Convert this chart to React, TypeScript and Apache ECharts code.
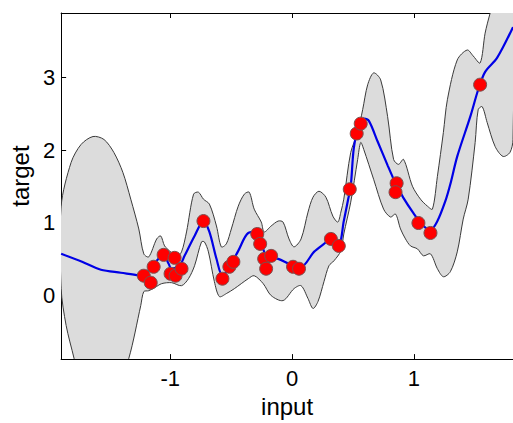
import React, { useEffect, useRef } from 'react';
import * as echarts from 'echarts';

const X_MIN = -1.897;
const X_MAX = 1.815;
const Y_MIN = -0.876;
const Y_MAX = 3.885;

// Posterior mean (blue line)
const meanCurve: [number, number][] = [
  [-1.897, 0.572], [-1.725, 0.462], [-1.57, 0.353], [-1.406, 0.312], [-1.259, 0.275],
  [-1.218, 0.271], [-1.153, 0.394], [-1.055, 0.558], [-1.014, 0.435], [-0.989, 0.367],
  [-0.924, 0.408], [-0.883, 0.545], [-0.801, 0.818], [-0.728, 1.023], [-0.679, 0.873],
  [-0.621, 0.504], [-0.572, 0.271], [-0.523, 0.367], [-0.442, 0.613], [-0.36, 0.859],
  [-0.294, 0.873], [-0.253, 0.736], [-0.229, 0.599], [-0.196, 0.531], [-0.114, 0.503],
  [-0.008, 0.421], [0.074, 0.394], [0.18, 0.599], [0.262, 0.709], [0.319, 0.777],
  [0.384, 0.709], [0.425, 1.023], [0.458, 1.3], [0.482, 1.5], [0.507, 2.022],
  [0.548, 2.336], [0.589, 2.432], [0.63, 2.404], [0.703, 2.117], [0.785, 1.789],
  [0.85, 1.543], [0.916, 1.338], [0.997, 1.132], [1.071, 0.968], [1.137, 0.9],
  [1.194, 1.023], [1.259, 1.296], [1.3, 1.529], [1.357, 1.912], [1.464, 2.459],
  [1.529, 2.829], [1.586, 3.075], [1.684, 3.267], [1.815, 3.691],
];

// Upper edge of the confidence band
const upperBound: [number, number][] = [
  [-1.897, 1.228], [-1.815, 1.83], [-1.733, 2.077], [-1.635, 2.186], [-1.545, 2.145],
  [-1.464, 1.967], [-1.39, 1.693], [-1.325, 1.324], [-1.259, 0.914], [-1.218, 0.572],
  [-1.177, 0.531], [-1.112, 0.777], [-1.079, 0.818], [-1.047, 0.681], [-1.006, 0.613],
  [-0.948, 0.531], [-0.908, 0.599], [-0.867, 0.873], [-0.809, 1.393], [-0.769, 1.42],
  [-0.728, 1.324], [-0.679, 1.256], [-0.621, 0.955], [-0.581, 0.668], [-0.54, 0.709],
  [-0.499, 0.914], [-0.442, 1.228], [-0.392, 1.393], [-0.352, 1.42], [-0.311, 1.187],
  [-0.253, 1.009], [-0.229, 0.873], [-0.172, 0.955], [-0.114, 1.023], [-0.074, 1.009],
  [-0.025, 0.777], [0.016, 0.668], [0.074, 0.777], [0.131, 1.146], [0.172, 1.351],
  [0.221, 1.433], [0.278, 1.351], [0.335, 1.091], [0.376, 1.009], [0.401, 1.146],
  [0.425, 1.324], [0.482, 1.967], [0.539, 2.241], [0.58, 2.555], [0.621, 2.897],
  [0.67, 3.061], [0.728, 2.965], [0.785, 2.459], [0.834, 1.871], [0.875, 1.803],
  [0.916, 1.871], [0.989, 1.502], [1.055, 1.324], [1.112, 1.228], [1.153, 1.187],
  [1.194, 1.638], [1.243, 2.241], [1.276, 2.692], [1.357, 3.239], [1.439, 3.376],
  [1.488, 3.294], [1.545, 3.198], [1.586, 3.608], [1.627, 3.882], [1.684, 4.2],
  [1.815, 4.8],
];

// Lower edge of the confidence band
const lowerBound: [number, number][] = [
  [-1.897, 0.093], [-1.856, -0.413], [-1.791, -0.865], [-1.725, -1.342], [-1.635, -1.52],
  [-1.537, -1.48], [-1.439, -1.27], [-1.341, -0.865], [-1.243, -0.14], [-1.218, 0.052],
  [-1.177, 0.065], [-1.128, 0.107], [-1.071, 0.162], [-0.989, 0.175], [-0.908, 0.134],
  [-0.851, 0.23], [-0.801, 0.408], [-0.744, 0.736], [-0.72, 0.736], [-0.687, 0.599],
  [-0.638, 0.189], [-0.597, -0.016], [-0.54, 0.025], [-0.474, 0.093], [-0.36, 0.23],
  [-0.311, 0.271], [-0.237, 0.162], [-0.172, -0.002], [-0.074, -0.071], [0.016, 0.093],
  [0.074, 0.134], [0.131, -0.043], [0.172, -0.18], [0.213, -0.084], [0.262, 0.189],
  [0.303, 0.408], [0.344, 0.476], [0.401, 0.613], [0.425, 0.845], [0.482, 1.283],
  [0.539, 1.871], [0.564, 2.104], [0.589, 2.008], [0.67, 1.598], [0.752, 1.187],
  [0.809, 1.078], [0.85, 1.119], [0.891, 0.914], [0.932, 0.777], [0.973, 0.681],
  [1.03, 0.64], [1.079, 0.545], [1.137, 0.572], [1.194, 0.367], [1.243, 0.257],
  [1.3, 0.326], [1.357, 0.599], [1.406, 1.05], [1.447, 1.324], [1.504, 2.104],
  [1.529, 2.555], [1.562, 2.596], [1.603, 2.377], [1.668, 2.049], [1.733, 1.912],
  [1.79, 1.967], [1.815, 2.145],
];

// Observed training points (red dots)
const observations: [number, number][] = [
  [-1.218, 0.271], [-1.161, 0.175], [-1.137, 0.394], [-1.055, 0.558], [-0.965, 0.517],
  [-0.998, 0.298], [-0.957, 0.271], [-0.908, 0.367], [-0.728, 1.023], [-0.572, 0.23],
  [-0.515, 0.394], [-0.482, 0.462], [-0.286, 0.845], [-0.262, 0.709], [-0.229, 0.503],
  [-0.172, 0.544], [-0.213, 0.367], [0.008, 0.394], [0.057, 0.367], [0.319, 0.777],
  [0.384, 0.681], [0.474, 1.461], [0.531, 2.227], [0.564, 2.363], [0.859, 1.543],
  [0.85, 1.42], [1.038, 0.996], [1.137, 0.859], [1.545, 2.899],
];

const FONT = "'Liberation Sans', Arial, Helvetica, sans-serif";

const intLabel = (v: number) => (Math.abs(v - Math.round(v)) < 1e-9 ? String(Math.round(v)) : '');

export default function App() {
  const ref = useRef<HTMLDivElement>(null);
  useEffect(() => {
    const chart = echarts.init(ref.current!, null, { renderer: 'svg' });
    const axisLine = { show: true, onZero: false, lineStyle: { color: '#000', width: 1 } };
    const axisTick = { show: true, inside: true, length: 5, lineStyle: { color: '#000', width: 1 } };
    chart.setOption({
      animation: false,
      backgroundColor: '#fff',
      grid: { left: 59, right: 0, top: 13, bottom: 62, containLabel: false },
      xAxis: [
        {
          type: 'value', position: 'bottom', min: X_MIN, max: X_MAX,
          minInterval: 1, maxInterval: 1,
          splitLine: { show: false }, axisLine, axisTick,
          axisLabel: {
            fontSize: 22, color: '#000', margin: 8, fontFamily: FONT,
            showMinLabel: false, showMaxLabel: false, formatter: intLabel,
          },
          name: 'input', nameLocation: 'middle', nameGap: 33,
          nameTextStyle: { fontSize: 24, color: '#000', fontFamily: FONT },
        },
        {
          type: 'value', position: 'top', min: X_MIN, max: X_MAX,
          minInterval: 1, maxInterval: 1,
          splitLine: { show: false }, axisLine, axisTick,
          axisLabel: { show: false },
        },
      ],
      yAxis: [
        {
          type: 'value', position: 'left', min: Y_MIN, max: Y_MAX,
          minInterval: 1, maxInterval: 1,
          splitLine: { show: false }, axisLine, axisTick,
          axisLabel: {
            fontSize: 22, color: '#000', margin: 6, fontFamily: FONT,
            showMinLabel: false, showMaxLabel: false, formatter: intLabel,
          },
          name: 'target', nameLocation: 'middle', nameGap: 29,
          nameTextStyle: { fontSize: 24, color: '#000', fontFamily: FONT, padding: [0, 0, 0, 20] },
        },
      ],
      series: [
        {
          type: 'custom',
          clip: true,
          silent: true,
          z: 1,
          data: [[0, 0]],
          renderItem: (_params: any, api: any) => {
            const pts = upperBound
              .map((p) => api.coord(p))
              .concat(lowerBound.slice().reverse().map((p) => api.coord(p)));
            return {
              type: 'polygon',
              shape: { points: pts, smooth: 0.3 },
              style: { fill: '#dcdcdc', stroke: '#3a3a3a', lineWidth: 1 },
            };
          },
        },
        {
          type: 'line',
          data: meanCurve,
          smooth: 0.3,
          showSymbol: false,
          silent: true,
          z: 2,
          lineStyle: { color: '#0000e6', width: 2.2 },
        },
        {
          type: 'scatter',
          data: observations,
          symbol: 'circle',
          symbolSize: 13,
          silent: true,
          z: 3,
          itemStyle: { color: '#ff0000', borderColor: '#7a5050', borderWidth: 1, opacity: 1 },
        },
      ],
    });
    return () => chart.dispose();
  }, []);
  return <div ref={ref} style={{ position: 'absolute', left: 0, top: 0, width: 513, height: 423 }} />;
}
